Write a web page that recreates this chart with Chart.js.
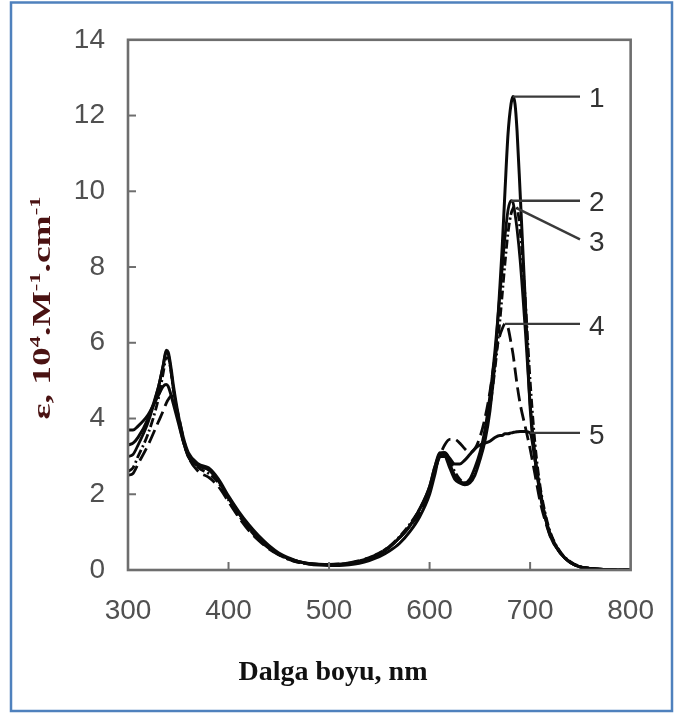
<!DOCTYPE html>
<html><head><meta charset="utf-8">
<script src="https://cdn.jsdelivr.net/npm/chart.js@4/dist/chart.umd.min.js"></script>
<style>html,body{margin:0;padding:0;background:#fff;}#wrap{position:relative;width:678px;height:717px;}canvas{display:block;}</style>
</head><body><div id="wrap"><canvas id="c" width="678" height="717"></canvas></div>
<script>
// ---- data ----
const wavelengths = [300,305,310,320,330,335,338,340,343,345,350,355,360,370,380,390,400,410,420,430,440,450,460,470,480,490,500,510,520,530,540,550,560,570,580,590,600,605,610,615,620,625,630,635,640,645,650,655,660,665,670,672,675,678,681,683,685,687,690,695,700,705,710,715,720,730,740,750,760,770,780,790,800];
const series1 = [3.3,3.35,3.5,4.0,4.8,5.4,5.8,5.75,5.3,4.9,4.1,3.5,3.1,2.8,2.7,2.4,1.95,1.55,1.2,0.9,0.65,0.45,0.32,0.22,0.16,0.13,0.12,0.12,0.14,0.18,0.25,0.35,0.5,0.7,1.0,1.4,2.0,2.5,3.0,3.0,2.7,2.4,2.3,2.25,2.3,2.5,2.9,3.4,4.2,5.5,7.5,8.4,10.0,11.5,12.3,12.5,12.3,11.6,10.0,7.2,4.3,2.9,2.0,1.4,0.9,0.45,0.2,0.08,0.04,0.02,0.01,0,0];
const series2 = [3.0,3.05,3.3,3.9,4.8,5.4,5.75,5.7,5.2,4.8,4.0,3.4,3.0,2.75,2.65,2.35,1.9,1.5,1.15,0.85,0.6,0.42,0.3,0.22,0.17,0.15,0.14,0.15,0.17,0.22,0.3,0.42,0.6,0.85,1.15,1.6,2.2,2.7,3.1,3.05,2.8,2.5,2.35,2.3,2.4,2.7,3.1,3.7,4.6,5.8,7.3,7.9,8.8,9.5,9.75,9.7,9.4,9.0,8.2,6.4,4.4,3.0,2.0,1.4,0.95,0.45,0.2,0.08,0.04,0.02,0.01,0,0];
const series3 = [2.6,2.7,3.0,3.6,4.5,5.2,5.6,5.6,5.2,4.8,4.0,3.4,3.0,2.7,2.55,2.3,1.85,1.45,1.1,0.8,0.58,0.4,0.28,0.2,0.16,0.14,0.14,0.15,0.18,0.24,0.32,0.45,0.62,0.88,1.2,1.6,2.1,2.6,3.0,3.1,2.9,2.6,2.4,2.3,2.35,2.6,3.0,3.5,4.3,5.3,6.6,7.2,8.1,8.9,9.4,9.55,9.6,9.55,9.0,7.2,5.0,3.3,2.2,1.5,1.0,0.48,0.22,0.09,0.04,0.02,0.01,0,0];
const series4 = [2.5,2.55,2.8,3.3,3.9,4.2,4.4,4.5,4.6,4.55,4.1,3.5,3.0,2.6,2.45,2.2,1.8,1.4,1.05,0.78,0.56,0.4,0.28,0.2,0.16,0.15,0.15,0.16,0.19,0.25,0.33,0.45,0.62,0.85,1.15,1.5,2.1,2.6,3.0,3.3,3.45,3.45,3.35,3.2,3.1,3.2,3.5,4.0,4.7,5.6,6.2,6.35,6.5,6.4,6.0,5.7,5.3,4.9,4.4,3.8,3.2,2.5,1.8,1.3,0.9,0.45,0.2,0.08,0.04,0.02,0.01,0,0];
const series5 = [3.7,3.7,3.8,4.1,4.6,4.85,4.9,4.85,4.6,4.4,3.9,3.4,3.0,2.75,2.65,2.35,1.9,1.5,1.15,0.85,0.6,0.42,0.3,0.22,0.17,0.15,0.14,0.15,0.17,0.22,0.3,0.42,0.6,0.85,1.15,1.6,2.2,2.7,3.05,3.1,2.95,2.8,2.8,2.9,3.05,3.2,3.3,3.35,3.4,3.5,3.55,3.55,3.6,3.6,3.62,3.63,3.64,3.65,3.66,3.66,3.62,2.9,2.1,1.4,0.95,0.45,0.2,0.08,0.04,0.02,0.01,0,0];
const seriesNames = ['1','2','3','4','5'];
const labelAnchors = [683,681,687,675,700];   // wavelength where each leader line starts
const xTicks = [300,400,500,600,700,800];
const yTicks = [0,2,4,6,8,10,12,14];
const xTitle = 'Dalga boyu, nm';
const yTitleParts = [['\u03B5, 10',0],['4',1],['.M',0],['-1',1],['.cm',0],['-1',1]];

const allSeries = [series1,series2,series3,series4,series5];
const dashes = [[],[],[9,3,2,3],[14,6],[]];
const widths = [3,2.8,2.8,2.8,3];

const datasets = allSeries.map((s,k)=>({
  label: seriesNames[k],
  data: wavelengths.map((w,i)=>({x:w,y:s[i]})),
  borderColor:'#0a0a0a', borderWidth:widths[k], borderDash:dashes[k],
  pointRadius:0, fill:false, cubicInterpolationMode:'monotone'
}));

const LEFT=128, TOP=33, RIGHT=643, BOTTOM=570, W=678, H=717;

const decor = {
  id:'decor',
  afterDraw(chart){
    const ctx=chart.ctx, xs=chart.scales.x, ys=chart.scales.y, a=chart.chartArea;
    ctx.save();
    ctx.strokeStyle='#6e6e6e'; ctx.lineWidth=2.6;
    ctx.strokeRect(a.left,a.top,a.right-a.left,a.bottom-a.top);
    ctx.lineWidth=2;
    xTicks.forEach(v=>{ if(v===xTicks[0]||v===xTicks[xTicks.length-1])return; const px=xs.getPixelForValue(v); ctx.beginPath(); ctx.moveTo(px,a.bottom); ctx.lineTo(px,a.bottom-8); ctx.stroke();});
    yTicks.forEach(v=>{ if(v===yTicks[0]||v===yTicks[yTicks.length-1])return; const py=ys.getPixelForValue(v); ctx.beginPath(); ctx.moveTo(a.left,py); ctx.lineTo(a.left+8,py); ctx.stroke();});
    ctx.strokeStyle='#3a3a3a'; ctx.lineWidth=2.4; ctx.fillStyle='#333';
    ctx.font='28px "Liberation Sans", Arial, sans-serif'; ctx.textBaseline='middle'; ctx.textAlign='left';
    const endX=580;
    allSeries.forEach((s,k)=>{
      const idx=wavelengths.indexOf(labelAnchors[k]);
      const px=xs.getPixelForValue(wavelengths[idx]), py=ys.getPixelForValue(s[idx]);
      const ey = k===2 ? py+31 : py;
      ctx.beginPath(); ctx.moveTo(px,py); ctx.lineTo(endX,ey); ctx.stroke();
      ctx.fillText(seriesNames[k], endX+9, ey+(k===2?4:3));
    });
    ctx.fillStyle='#111'; ctx.font='bold 28px "Liberation Serif", "Times New Roman", serif';
    ctx.textAlign='center'; ctx.textBaseline='alphabetic';
    ctx.fillText(xTitle, 333, 680);
    ctx.save();
    ctx.translate(50,308); ctx.rotate(-Math.PI/2);
    const fMain='bold 25px "Liberation Serif", "Times New Roman", serif', fSup='bold 15px "Liberation Serif", "Times New Roman", serif';
    let tot=0; yTitleParts.forEach(p=>{ctx.font=p[1]?fSup:fMain; tot+=ctx.measureText(p[0]).width;});
    const target=223, sc=target/tot;
    ctx.scale(sc,1);
    let x=-tot/2; ctx.fillStyle='#4a1212'; ctx.textAlign='left';
    yTitleParts.forEach(p=>{ctx.font=p[1]?fSup:fMain; ctx.fillText(p[0],x,p[1]?-10:0); x+=ctx.measureText(p[0]).width;});
    ctx.restore();
    ctx.strokeStyle='#4f81bd'; ctx.lineWidth=2.5;
    ctx.strokeRect(11,2.5,W-11-6,H-2.5-6);
    ctx.restore();
  }
};

new Chart(document.getElementById('c'),{
  type:'line',
  data:{datasets},
  plugins:[decor],
  options:{
    responsive:false, animation:false, devicePixelRatio:1,
    layout:{padding:{left:0,top:TOP,right:W-RIGHT,bottom:0}},
    plugins:{legend:{display:false},tooltip:{enabled:false}},
    scales:{
      x:{type:'linear',min:300,max:800,
         afterBuildTicks:s=>{s.ticks=xTicks.map(v=>({value:v}));},
         afterFit:s=>{s.height=H-BOTTOM;},
         grid:{display:false,drawTicks:false}, border:{display:false},
         ticks:{padding:24,color:'#505050',font:{family:'"Liberation Sans", Arial, sans-serif',size:28},maxRotation:0}},
      y:{type:'linear',min:0,max:14,
         afterBuildTicks:s=>{s.ticks=yTicks.map(v=>({value:v}));},
         afterFit:s=>{s.width=LEFT;},
         grid:{display:false,drawTicks:false}, border:{display:false},
         ticks:{padding:23,color:'#505050',font:{family:'"Liberation Sans", Arial, sans-serif',size:28}}}
    }
  }
});
</script></body></html>
